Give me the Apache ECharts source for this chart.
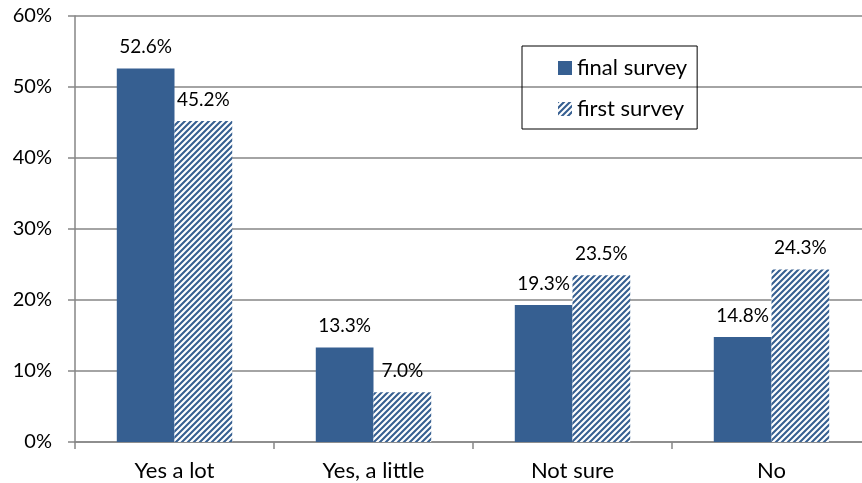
<!DOCTYPE html>
<html><head><meta charset="utf-8">
<script src="https://cdn.jsdelivr.net/npm/echarts@6/dist/echarts.min.js"></script>
<style>html,body{margin:0;padding:0;background:#fff}#c{width:862px;height:483px}</style>
</head><body><div id="c"></div>
<script>
const categories = ['Yes a lot', 'Yes, a little', 'Not sure', 'No'];
const finalSurvey = [52.6, 13.3, 19.3, 14.8];
const firstSurvey = [45.2, 7.0, 23.5, 24.3];
const seriesNames = ['final survey', 'first survey'];
const yTicks = [0, 10, 20, 30, 40, 50, 60];

const BLUE = '#365f91';
function hatch() {
  const s = 6;
  const c = document.createElement('canvas');
  c.width = s; c.height = s;
  const g = c.getContext('2d');
  g.fillStyle = '#ffffff';
  g.fillRect(0, 0, s, s);
  g.strokeStyle = BLUE;
  g.lineWidth = 2.1;
  g.beginPath();
  for (let k = -1; k <= 1; k++) {
    g.moveTo(k * s - 1, s + 1);
    g.lineTo(k * s + s + 1, -1);
  }
  g.stroke();
  return c;
}
const pattern = { image: hatch(), repeat: 'repeat' };
const FONT = 'Lato';

const chart = echarts.init(document.getElementById('c'), null, { renderer: 'canvas' });
chart.setOption({
  animation: false,
  backgroundColor: '#fff',
  grid: { left: 75, width: 796, top: 16, bottom: 41, containLabel: false, outerBoundsMode: 'none' },
  legend: {
    orient: 'vertical',
    left: 522, top: 46,
    padding: [11, 10, 9, 36],
    itemWidth: 14, itemHeight: 14,
    itemGap: 19,
    itemTextGap: 6,
    borderColor: '#000', borderWidth: 1,
    textStyle: { fontFamily: FONT, fontSize: 22, color: '#000' },
    data: [
      { name: seriesNames[0], icon: 'rect' },
      { name: seriesNames[1], icon: 'rect' }
    ]
  },
  xAxis: {
    type: 'category',
    data: categories,
    axisLine: { lineStyle: { color: '#868686', width: 1.5 } },
    axisTick: { show: true, length: 7, lineStyle: { color: '#868686', width: 1.5 } },
    axisLabel: { fontFamily: FONT, fontSize: 22, color: '#000', margin: 18 }
  },
  yAxis: {
    type: 'value',
    min: yTicks[0], max: yTicks[yTicks.length - 1], interval: 10,
    axisLine: { show: true, lineStyle: { color: '#868686', width: 1.5 } },
    axisTick: { show: true, length: 7, lineStyle: { color: '#868686', width: 1.5 } },
    splitLine: { lineStyle: { color: '#868686', width: 1.5 } },
    axisLabel: { fontFamily: FONT, fontSize: 20, color: '#000', margin: 23, formatter: v => v + '%' }
  },
  series: [
    {
      name: seriesNames[0], type: 'bar', data: finalSurvey,
      barGap: '0%', barCategoryGap: '42%',
      itemStyle: { color: BLUE },
      label: { show: true, position: 'top', distance: 12, fontFamily: FONT, fontSize: 19, color: '#000', formatter: p => p.value.toFixed(1) + '%' }
    },
    {
      name: seriesNames[1], type: 'bar', data: firstSurvey,
      barGap: '0%', barCategoryGap: '42%',
      itemStyle: { color: pattern },
      label: { show: true, position: 'top', distance: 12, fontFamily: FONT, fontSize: 19, color: '#000', formatter: p => p.value.toFixed(1) + '%' }
    }
  ]
});
</script></body></html>
